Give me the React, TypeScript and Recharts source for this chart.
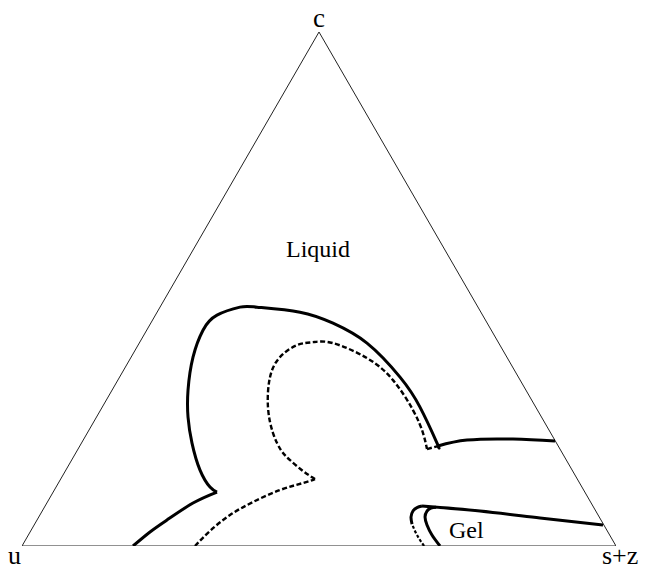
import { ComposedChart, Line, ReferenceDot, XAxis, YAxis } from "recharts";

// all points are in triangle units: base runs 0..100 (u -> s+z), apex c at (50, 86.6)
const triangleEdge = [
  [0, 0],
  [100, 0],
  [50, 86.6],
  [0, 0],
];

// liquid boundary (solid), split at its cusps
const liquidLow = [
  [18.69, 0],
  [21.55, 2.36],
  [24.41, 4.38],
  [28.79, 7.24],
  [32.83, 9.09],
];
const liquidArc = [
  [32.83, 9.09],
  [31.65, 9.93],
  [29.97, 12.79],
  [28.62, 17.34],
  [27.95, 21.72],
  [27.95, 26.26],
  [28.79, 31.82],
  [30.47, 36.36],
  [32.83, 38.89],
  [36.7, 40.24],
  [39.56, 40.24],
  [46.8, 39.39],
  [52.36, 37.54],
  [58.08, 34.18],
  [63.64, 28.45],
  [67.0, 23.4],
  [69.87, 17.34],
  [70.03, 16.84],
];
const liquidShelf = [
  [70.03, 16.84],
  [74.92, 17.85],
  [82.66, 18.01],
  [89.73, 17.68],
];

// inner boundary (dashed)
const innerLow = [
  [29.12, 0],
  [31.65, 2.53],
  [35.02, 5.22],
  [38.89, 7.41],
  [43.43, 9.43],
  [47.31, 10.61],
  [49.33, 11.28],
];
const innerArc = [
  [49.33, 11.28],
  [47.31, 12.63],
  [45.12, 14.48],
  [43.6, 16.16],
  [42.26, 19.02],
  [41.41, 23.4],
  [41.75, 28.45],
  [43.43, 31.82],
  [46.3, 33.84],
  [48.99, 34.34],
  [52.36, 34.18],
  [58.08, 31.65],
  [62.46, 27.95],
  [65.82, 22.9],
  [67.51, 19.02],
  [68.18, 16.33],
];
const innerJoin = [
  [68.18, 16.33],
  [70.03, 16.84],
];

// gel region
const gelOuterLow = [
  [67.68, 0],
  [66.5, 1.85],
  [65.66, 3.7],
];
const gelOuterTop = [
  [65.66, 3.7],
  [65.49, 4.88],
  [65.82, 5.89],
  [66.5, 6.48],
  [67.34, 6.73],
];
const gelTop = [
  [67.34, 6.73],
  [77.1, 5.89],
  [87.21, 4.71],
  [97.81, 3.54],
];
const gelInner = [
  [70.37, 0],
  [69.02, 1.85],
  [68.18, 3.54],
  [67.85, 4.88],
  [68.18, 5.89],
  [68.86, 6.4],
  [69.7, 6.52],
];

const labelTexts = ["u", "c", "s+z", "Liquid", "Gel"];
const labelAnchors = [
  [0, 0],
  [50, 86.6],
  [100, 0],
  [49.83, 48.65],
  [71.89, 1.35],
];

const toPts = (rows: number[][]) => rows.map(([x, y]) => ({ x, y }));

const W = 646;
const H = 570;
const margin = { top: 32, right: 30, bottom: 24, left: 22 };

const solid = { stroke: "#000", strokeWidth: 3 };
const dashed = { stroke: "#000", strokeWidth: 2.4, strokeDasharray: "5 2.5" };
const dotted = { stroke: "#000", strokeWidth: 2.2, strokeDasharray: "3 2" };

const curves = [
  { name: "liquidLow", rows: liquidLow, style: solid },
  { name: "liquidArc", rows: liquidArc, style: solid },
  { name: "liquidShelf", rows: liquidShelf, style: solid },
  { name: "innerLow", rows: innerLow, style: dashed },
  { name: "innerArc", rows: innerArc, style: dashed },
  { name: "innerJoin", rows: innerJoin, style: dashed },
  { name: "gelOuterLow", rows: gelOuterLow, style: dotted },
  { name: "gelOuterTop", rows: gelOuterTop, style: solid },
  { name: "gelTop", rows: gelTop, style: solid },
  { name: "gelInner", rows: gelInner, style: solid },
];

// text placement relative to each anchor point
const labelStyle = [
  { dx: -14, dy: 18, size: 26, anchor: "start" },
  { dx: 0, dy: -5, size: 27, anchor: "middle" },
  { dx: -14, dy: 18, size: 26, anchor: "start" },
  { dx: 0, dy: 0, size: 24, anchor: "middle" },
  { dx: 0, dy: 0, size: 24, anchor: "start" },
];

const makeLabel = (text: string, i: number) => (props: any) => {
  const vb = props.viewBox || {};
  const s = labelStyle[i];
  return (
    <text
      x={(vb.x ?? 0) + s.dx}
      y={(vb.y ?? 0) + s.dy}
      textAnchor={s.anchor}
      fontFamily="'Liberation Serif', 'Times New Roman', serif"
      fontSize={s.size}
      fill="#000"
    >
      {text}
    </text>
  );
};

export default function App() {
  return (
    <div style={{ position: "absolute", left: 0, top: 0, background: "#fff" }}>
      <ComposedChart width={W} height={H} margin={margin}>
        <XAxis
          type="number"
          dataKey="x"
          domain={[0, 100]}
          allowDataOverflow
          hide
        />
        <YAxis
          type="number"
          dataKey="y"
          domain={[0, 86.6]}
          allowDataOverflow
          hide
        />
        <Line
          data={toPts(triangleEdge)}
          dataKey="y"
          type="linear"
          stroke="#222"
          strokeWidth={1}
          dot={false}
          activeDot={false}
          isAnimationActive={false}
        />
        {curves.map((c) => (
          <Line
            key={c.name}
            data={toPts(c.rows)}
            dataKey="y"
            type="natural"
            {...c.style}
            strokeLinecap="butt"
            strokeLinejoin="round"
            dot={false}
            activeDot={false}
            isAnimationActive={false}
          />
        ))}
        {labelTexts.map((t, i) => (
          <ReferenceDot
            key={t}
            x={labelAnchors[i][0]}
            y={labelAnchors[i][1]}
            r={0}
            fill="none"
            stroke="none"
            ifOverflow="visible"
            label={makeLabel(t, i)}
          />
        ))}
      </ComposedChart>
    </div>
  );
}
